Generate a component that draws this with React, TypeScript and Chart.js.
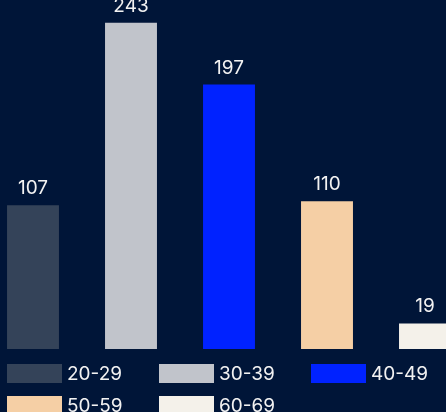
import React, { useEffect, useRef } from "react";
import { Chart, registerables } from "chart.js";

Chart.register(...registerables);

const ageGroups = ["20-29", "30-39", "40-49", "50-59", "60-69"];
const counts = [107, 243, 197, 110, 19];
const barColors = ["#344359", "#c1c4cb", "#0022ff", "#f5cfa5", "#f4f1ea"];
const yMax = 260;

const BG = "#001538";
const FONT = "Inter, 'Noto Sans', sans-serif";

const valueLabels = {
  id: "valueLabels",
  afterDatasetsDraw(chart: any) {
    const ctx = chart.ctx;
    const meta = chart.getDatasetMeta(0);
    ctx.save();
    ctx.fillStyle = "#f2f2f2";
    ctx.font = `19px ${FONT}`;
    ctx.textAlign = "center";
    ctx.textBaseline = "alphabetic";
    meta.data.forEach((bar: any, i: number) => {
      ctx.fillText(String(counts[i]), bar.x, bar.y - 11);
    });
    ctx.restore();
  },
};

const boxLegend = {
  id: "boxLegend",
  afterDraw(chart: any) {
    const ctx = chart.ctx;
    const area = chart.chartArea;
    const startX = area.left + 23;
    const startY = area.bottom + 15;
    const colStep = 152;
    const rowStep = 32;
    const boxW = 55;
    const boxH = 19;
    ctx.save();
    ctx.font = `19px ${FONT}`;
    ctx.textAlign = "left";
    ctx.textBaseline = "middle";
    ageGroups.forEach((label, i) => {
      const col = i % 3;
      const row = Math.floor(i / 3);
      const x = startX + col * colStep;
      const y = startY + row * rowStep;
      ctx.fillStyle = barColors[i];
      ctx.fillRect(x, y, boxW, boxH);
      ctx.fillStyle = "#f2f2f2";
      ctx.fillText(label, x + boxW + 5, y + boxH / 2 + 1);
    });
    ctx.restore();
  },
};

export default function App() {
  const ref = useRef<HTMLCanvasElement>(null);

  useEffect(() => {
    if (!ref.current) return;
    const chart = new Chart(ref.current, {
      type: "bar",
      data: {
        labels: ageGroups,
        datasets: [
          {
            label: "Count",
            data: counts,
            backgroundColor: barColors,
            borderWidth: 0,
            categoryPercentage: 1,
            barPercentage: 0.53,
          },
        ],
      },
      options: {
        responsive: false,
        animation: false,
        layout: { padding: { top: 0, left: 0, right: 0, bottom: 81 } },
        plugins: {
          legend: { display: false },
          tooltip: { enabled: false },
        },
        scales: {
          x: { display: false, grid: { display: false } },
          y: { display: false, min: 0, max: yMax, grid: { display: false } },
        },
      },
      plugins: [valueLabels, boxLegend],
    });
    return () => chart.destroy();
  }, []);

  return (
    <div
      style={{
        position: "fixed",
        left: 0,
        top: 0,
        width: 446,
        height: 412,
        overflow: "hidden",
        background: BG,
      }}
    >
      <canvas
        ref={ref}
        width={490}
        height={430}
        style={{ position: "absolute", left: -16, top: 0, width: 490, height: 430 }}
      />
    </div>
  );
}
